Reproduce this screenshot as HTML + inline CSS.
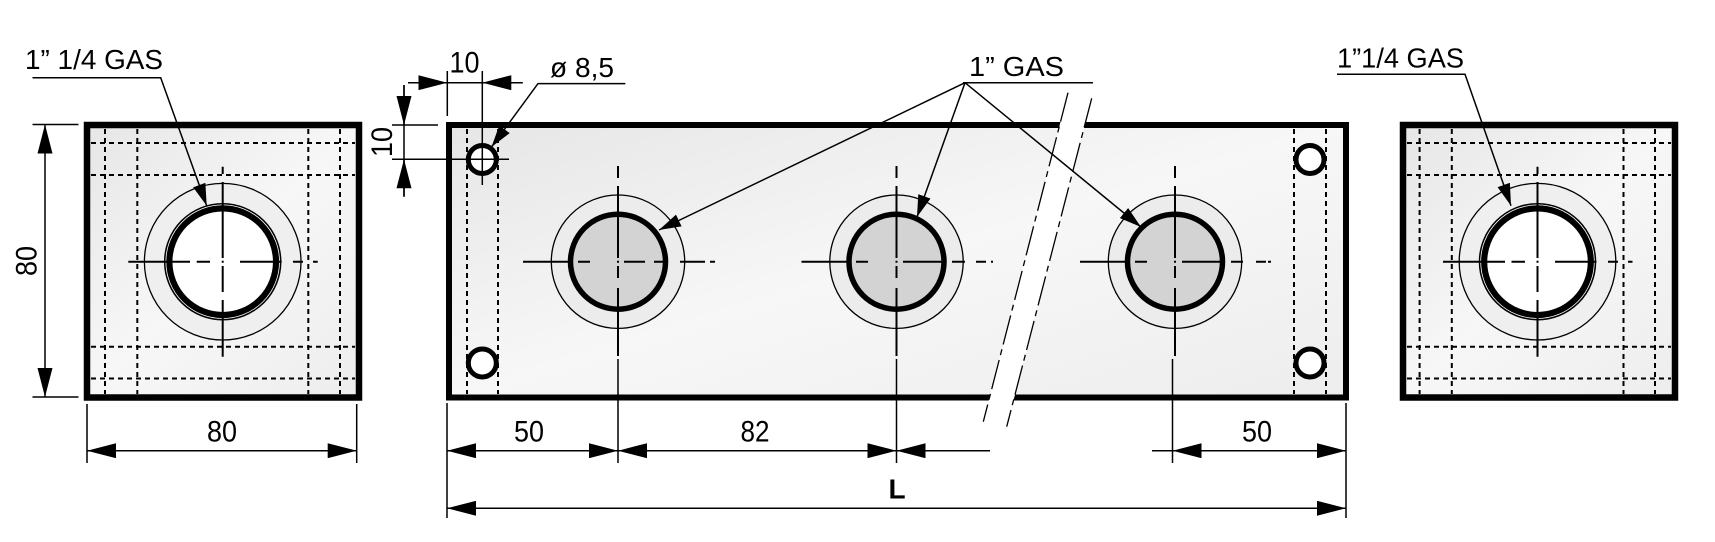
<!DOCTYPE html>
<html><head><meta charset="utf-8"><style>
html,body{margin:0;padding:0;background:#fff}
svg{display:block}
text{font-family:"Liberation Sans",Arial,sans-serif;fill:#000}
</style></head><body>
<svg width="1715" height="542" viewBox="0 0 1715 542" xmlns="http://www.w3.org/2000/svg">
<defs>
<linearGradient id="g" x1="0" y1="0" x2="1" y2="1">
<stop offset="0" stop-color="#e6e6e6"/><stop offset="0.5" stop-color="#f7f7f7"/><stop offset="1" stop-color="#ededed"/>
</linearGradient>
<marker id="da" markerUnits="userSpaceOnUse" markerWidth="29" markerHeight="15" refX="29" refY="7.5" orient="auto-start-reverse"><path d="M0,0 L29,7.5 L0,15 z" fill="#000"/></marker>
<marker id="la" markerUnits="userSpaceOnUse" markerWidth="22" markerHeight="13" refX="22" refY="6.5" orient="auto"><path d="M0,0 L22,6.5 L0,13 z" fill="#000"/></marker>
</defs>

<!-- LEFT SQUARE -->
<rect x="87" y="125" width="272" height="272.5" fill="url(#g)" stroke="#000" stroke-width="6.5"/>
<g stroke="#000" stroke-width="2" stroke-dasharray="5 4" fill="none">
<line x1="105" y1="129" x2="105" y2="394"/><line x1="137.3" y1="129" x2="137.3" y2="394"/>
<line x1="308.3" y1="129" x2="308.3" y2="394"/><line x1="340" y1="129" x2="340" y2="394"/>
<line x1="91" y1="143" x2="355" y2="143"/><line x1="91" y1="175" x2="355" y2="175"/>
<line x1="91" y1="346.7" x2="355" y2="346.7"/><line x1="91" y1="378.5" x2="355" y2="378.5"/>
</g>
<circle cx="222.7" cy="261.7" r="78.3" fill="#efefef" stroke="#000" stroke-width="1.3"/>
<circle cx="222.7" cy="261.7" r="54.5" fill="#fff" stroke="#000" stroke-width="8.5"/>
<circle cx="222.7" cy="261.7" r="56.8" fill="none" stroke="#fff" stroke-width="0.8"/>
<g stroke="#000" stroke-width="2">
<path d="M128.3 261.7H190 M196.7 261.7H210 M221.7 261.7H223.7 M240 261.7H281.7 M293 261.7H303 M313 261.7H317.7"/>
<path d="M222.7 166.7V174 M222.7 182V258 M222.7 266V292 M222.7 300V356.7"/>
</g>
<text x="25" y="69" font-size="28" textLength="138" lengthAdjust="spacingAndGlyphs">1” 1/4  GAS</text>
<polyline points="32.5,77.8 160.7,77.8 206.7,205.7" fill="none" stroke="#000" stroke-width="1.5" marker-end="url(#la)"/>
<g stroke="#000" stroke-width="1.5">
<line x1="32.5" y1="124.5" x2="78.5" y2="124.5"/><line x1="32.5" y1="397" x2="78.5" y2="397"/>
<line x1="45" y1="124.5" x2="45" y2="397" marker-start="url(#da)" marker-end="url(#da)"/>
<line x1="87" y1="404" x2="87" y2="463"/><line x1="356.7" y1="404" x2="356.7" y2="463"/>
<line x1="87" y1="450.7" x2="356.7" y2="450.7" marker-start="url(#da)" marker-end="url(#da)"/>
</g>
<text transform="translate(36.5,261) rotate(-90)" text-anchor="middle" font-size="30" textLength="30" lengthAdjust="spacingAndGlyphs">80</text>
<text x="222" y="441.7" text-anchor="middle" font-size="30" textLength="30" lengthAdjust="spacingAndGlyphs">80</text>

<!-- MIDDLE BLOCK -->
<rect x="449" y="125" width="897" height="272.5" fill="url(#g)" stroke="#000" stroke-width="6"/>
<g stroke="#000" stroke-width="2" stroke-dasharray="5 4" fill="none">
<line x1="467" y1="129" x2="467" y2="394"/><line x1="498" y1="129" x2="498" y2="394"/>
<line x1="1294" y1="129" x2="1294" y2="394"/><line x1="1326" y1="129" x2="1326" y2="394"/>
</g>
<g fill="#fff" stroke="#000" stroke-width="5">
<circle cx="482.3" cy="159.5" r="14"/><circle cx="482.3" cy="363" r="14"/>
<circle cx="1310" cy="159.5" r="14"/><circle cx="1310" cy="363" r="14"/>
</g>
<circle cx="618" cy="261.7" r="66.7" fill="#ececec" stroke="#000" stroke-width="1.3"/>
<circle cx="618" cy="261.7" r="47.5" fill="#d3d3d3" stroke="#000" stroke-width="5.5"/>
<circle cx="896.5" cy="261.7" r="66.7" fill="#ececec" stroke="#000" stroke-width="1.3"/>
<circle cx="896.5" cy="261.7" r="47.5" fill="#d3d3d3" stroke="#000" stroke-width="5.5"/>
<circle cx="1175" cy="261.7" r="66.7" fill="#ececec" stroke="#000" stroke-width="1.3"/>
<circle cx="1175" cy="261.7" r="47.5" fill="#d3d3d3" stroke="#000" stroke-width="5.5"/>
<g stroke="#000" stroke-width="2">
<path d="M523 261.7H570 M578 261.7H590 M617 261.7H619 M624 261.7H645 M654 261.7H666 M680 261.7H705 M710 261.7H715"/>
<path d="M618 166V178 M618 186V258 M618 266V278 M618 288V356"/>
<path d="M801.5 261.7H848 M856 261.7H868 M895.5 261.7H897.5 M903 261.7H944 M952 261.7H965 M976 261.7H986 M991 261.7H993"/>
<path d="M896.5 166V178 M896.5 186V258 M896.5 266V278 M896.5 288V356"/>
<path d="M1080 261.7H1127 M1135 261.7H1147 M1174 261.7H1176 M1182 261.7H1222 M1231 261.7H1243 M1256 261.7H1266 M1268 261.7H1271"/>
<path d="M1175 166V178 M1175 186V258 M1175 266V278 M1175 288V356"/>
</g>
<polygon points="1068,92.7 1091.7,98.3 1006.7,426.7 983.3,421.7" fill="#fff"/>
<g stroke="#000" stroke-width="1.3" stroke-dasharray="30 5 6 5">
<line x1="1068" y1="92.7" x2="983.3" y2="421.7"/>
<line x1="1091.7" y1="98.3" x2="1006.7" y2="426.7"/>
</g>
<text x="969" y="76" font-size="28" textLength="95" lengthAdjust="spacingAndGlyphs">1”  GAS</text>
<g stroke="#000" stroke-width="1.5" fill="none">
<line x1="963" y1="82.7" x2="1093" y2="82.7"/>
<line x1="965" y1="82.7" x2="659" y2="230" marker-end="url(#la)"/>
<line x1="965" y1="82.7" x2="917" y2="217" marker-end="url(#la)"/>
<line x1="965" y1="82.7" x2="1141" y2="227" marker-end="url(#la)"/>
</g>
<text x="550" y="77" font-size="28" textLength="64" lengthAdjust="spacingAndGlyphs">ø 8,5</text>
<polyline points="625.4,83.6 538,83.6 491.5,147" fill="none" stroke="#000" stroke-width="1.5" marker-end="url(#la)"/>
<g stroke="#000" stroke-width="1.5">
<line x1="447.3" y1="71" x2="447.3" y2="116"/>
<line x1="482.3" y1="71" x2="482.3" y2="185"/>
<line x1="408" y1="82.7" x2="522.7" y2="82.7"/>
<line x1="408" y1="82.7" x2="447.3" y2="82.7" marker-end="url(#da)"/>
<line x1="522.7" y1="82.7" x2="482.3" y2="82.7" marker-end="url(#da)"/>
<line x1="392" y1="125" x2="438" y2="125"/>
<line x1="392" y1="159.3" x2="509" y2="159.3"/>
<line x1="404" y1="85" x2="404" y2="196.7"/>
<line x1="404" y1="85" x2="404" y2="125" marker-end="url(#da)"/>
<line x1="404" y1="196.7" x2="404" y2="159.3" marker-end="url(#da)"/>
</g>
<text x="464.5" y="72.6" text-anchor="middle" font-size="30" textLength="30" lengthAdjust="spacingAndGlyphs">10</text>
<text transform="translate(392,142) rotate(-90)" text-anchor="middle" font-size="30" textLength="30" lengthAdjust="spacingAndGlyphs">10</text>
<g stroke="#000" stroke-width="1.5">
<line x1="447" y1="403" x2="447" y2="518"/>
<line x1="618" y1="359" x2="618" y2="463"/>
<line x1="896.5" y1="359" x2="896.5" y2="463"/>
<line x1="1172.5" y1="359" x2="1172.5" y2="463"/>
<line x1="1346" y1="403" x2="1346" y2="518"/>
<line x1="447" y1="450.7" x2="618" y2="450.7" marker-start="url(#da)" marker-end="url(#da)"/>
<line x1="618" y1="450.7" x2="896.5" y2="450.7" marker-start="url(#da)" marker-end="url(#da)"/>
<line x1="990" y1="450.7" x2="896.5" y2="450.7" marker-end="url(#da)"/>
<line x1="1152" y1="450.7" x2="1172.5" y2="450.7"/>
<line x1="1172.5" y1="450.7" x2="1346" y2="450.7" marker-start="url(#da)" marker-end="url(#da)"/>
<line x1="447" y1="508.3" x2="1346" y2="508.3" marker-start="url(#da)" marker-end="url(#da)"/>
</g>
<text x="529" y="441.7" text-anchor="middle" font-size="30" textLength="30" lengthAdjust="spacingAndGlyphs">50</text>
<text x="755" y="441.7" text-anchor="middle" font-size="30" textLength="29" lengthAdjust="spacingAndGlyphs">82</text>
<text x="1257" y="441.7" text-anchor="middle" font-size="30" textLength="30" lengthAdjust="spacingAndGlyphs">50</text>
<text x="897" y="498.3" text-anchor="middle" font-size="28" font-weight="bold">L</text>

<!-- RIGHT SQUARE -->
<rect x="1403" y="125" width="272" height="272.5" fill="url(#g)" stroke="#000" stroke-width="6.5"/>
<g stroke="#000" stroke-width="2" stroke-dasharray="5 4" fill="none">
<line x1="1419.6" y1="129" x2="1419.6" y2="394"/><line x1="1451.8" y1="129" x2="1451.8" y2="394"/>
<line x1="1623.5" y1="129" x2="1623.5" y2="394"/><line x1="1655" y1="129" x2="1655" y2="394"/>
<line x1="1407" y1="143" x2="1671" y2="143"/><line x1="1407" y1="175" x2="1671" y2="175"/>
<line x1="1407" y1="346.7" x2="1671" y2="346.7"/><line x1="1407" y1="378.5" x2="1671" y2="378.5"/>
</g>
<circle cx="1537.5" cy="261.7" r="78.3" fill="#efefef" stroke="#000" stroke-width="1.3"/>
<circle cx="1537.5" cy="261.7" r="54.5" fill="#fff" stroke="#000" stroke-width="8.5"/>
<circle cx="1537.5" cy="261.7" r="56.8" fill="none" stroke="#fff" stroke-width="0.8"/>
<g stroke="#000" stroke-width="2">
<path d="M1443 261.7H1505 M1511.5 261.7H1525 M1536.5 261.7H1538.5 M1555 261.7H1596.5 M1608 261.7H1618 M1628 261.7H1632.5"/>
<path d="M1537.5 166.7V174 M1537.5 182V258 M1537.5 266V292 M1537.5 300V356.7"/>
</g>
<text x="1337" y="67.3" font-size="28" textLength="127" lengthAdjust="spacingAndGlyphs">1”1/4 GAS</text>
<polyline points="1337,74.3 1465,74.3 1511,205.7" fill="none" stroke="#000" stroke-width="1.5" marker-end="url(#la)"/>
</svg>
</body></html>
